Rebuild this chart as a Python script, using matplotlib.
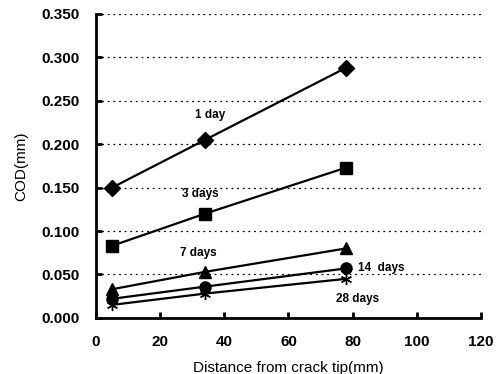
# COD vs distance from crack tip, by curing age

import matplotlib
matplotlib.use("Agg")
import matplotlib.pyplot as plt

plt.rcParams['font.family'] = ['Liberation Sans', 'DejaVu Sans']

distance = [5, 34, 78]
cod_1day = [0.150, 0.205, 0.288]
cod_3days = [0.083, 0.120, 0.173]
cod_7days = [0.033, 0.053, 0.080]
cod_14days = [0.022, 0.036, 0.057]
cod_28days = [0.015, 0.028, 0.045]

series = [
    (cod_1day, "D", "1 day", (35.5, 0.233)),
    (cod_3days, "s", "3 days", (32.5, 0.143)),
    (cod_7days, "^", "7 days", (32, 0.075)),
    (cod_14days, "o", "14  days", (89, 0.058)),
    (cod_28days, (6, 2, 0), "28 days", (81.5, 0.022)),
]

fig = plt.figure(figsize=(5.03, 3.74), dpi=100)
ax = fig.add_axes([0.191, 0.150, 0.765, 0.813])

for values, marker, label, (lx, ly) in series:
    ax.plot(distance, values, color="black", linewidth=1.6,
            marker=marker, markersize=8)
    ax.text(lx, ly, label, ha="center", va="center", fontsize=8.5,
            fontweight="semibold")

ax.set_xlim(0, 120)
ax.set_ylim(0, 0.35)
ax.set_xticks(range(0, 121, 20))
ax.set_yticks([0.0, 0.05, 0.1, 0.15, 0.2, 0.25, 0.3, 0.35])
ax.set_yticklabels(["%.3f" % v for v in ax.get_yticks()])
ax.yaxis.grid(True, linestyle=(0, (1.5, 3)), color="black", linewidth=0.9)
ax.set_axisbelow(True)

for side in ["top", "right"]:
    ax.spines[side].set_visible(False)
ax.spines["left"].set_linewidth(2)
ax.spines["bottom"].set_linewidth(2)
ax.tick_params(axis="x", direction="in", length=4, width=2, pad=12,
               labelsize=11)
ax.tick_params(axis="y", direction="in", length=4, width=2, pad=12,
               labelsize=11)
for lbl in ax.get_xticklabels() + ax.get_yticklabels():
    lbl.set_fontweight("semibold")

ax.set_xlabel("Distance from crack tip(mm)", fontsize=11, labelpad=9)
ax.set_ylabel("COD(mm)", fontsize=11, labelpad=9)

plt.savefig("out.png", dpi=100)
